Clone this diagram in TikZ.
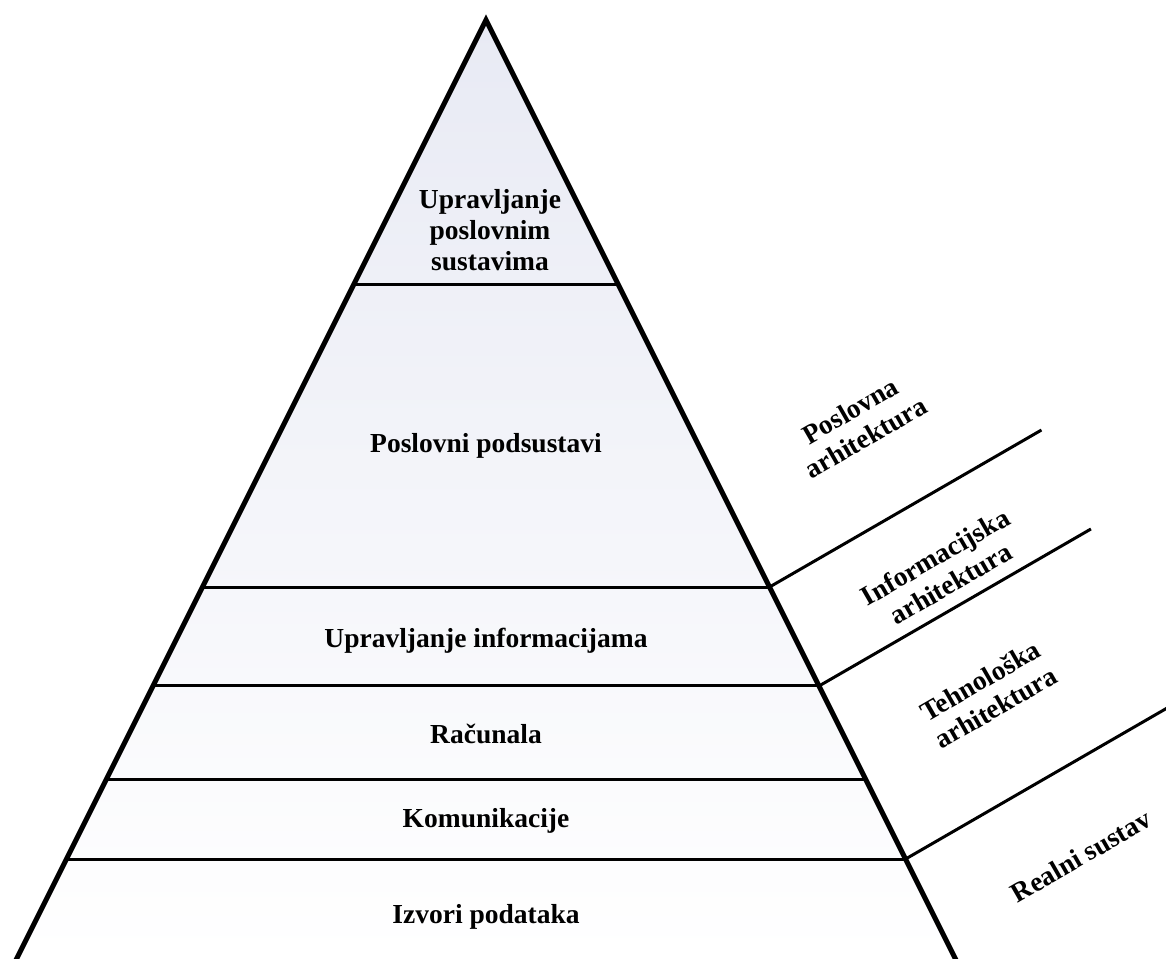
\documentclass[tikz,border=0pt]{standalone}
\usepackage{fontspec}
\setmainfont{Liberation Serif}
\usetikzlibrary{calc}
\definecolor{pyrtop}{HTML}{E8EAF4}

\begin{document}
\begin{tikzpicture}[
    x=1pt, y=1pt,
    layer/.style={line width=3pt},
    edge/.style={line width=5pt, line join=miter},
    side/.style={line width=3pt},
    tier/.style={font=\bfseries\fontsize{27.5}{31}\selectfont, align=center, inner sep=0pt},
    archtext/.style={tier, rotate=30}
  ]
    \useasboundingbox (0,0) rectangle (1166,-958);
    \clip (0,0) rectangle (1166,-958);

    % Pyramid
    \coordinate (apex) at (486,-20);
    \coordinate (bl) at (17,-958);
    \coordinate (br) at (955,-958);
    \shade[top color=pyrtop, bottom color=white] (apex) -- (bl) -- (br) -- cycle;

    % Layers
    \foreach \t [count=\i] in {0.2825,0.6045,0.7100,0.8092,0.8945} {
      \coordinate (l\i) at ($(apex)!\t!(bl)$);
      \coordinate (r\i) at ($(apex)!\t!(br)$);
      \draw[layer] (l\i) -- (r\i);
    }
    \draw[edge] ($(apex)!1.02!(bl)$) -- (apex) -- ($(apex)!1.02!(br)$);

    % Architecture borders
    \draw[side] (r2) -- ++(30:314);
    \draw[side] (r3) -- ++(30:314);
    \draw[side] (r5) -- ++(30:320);

    % Layer texts
    \node[tier] (top) at (490,-230) {Upravljanje\\poslovnim\\sustavima};
    \node[tier, anchor=base] (business) at (486,-452) {Poslovni podsustavi};
    \node[tier, anchor=base] (infomgmt) at (486,-647) {Upravljanje informacijama};
    \node[tier, anchor=base] (computers) at (486,-743) {Računala};
    \node[tier, anchor=base] (comms) at (486,-827) {Komunikacije};
    \node[tier, anchor=base] (sources) at (486,-923) {Izvori podataka};

    % Architecture texts
    \node[archtext] (archbus) at (858,-424) {Poslovna\\arhitektura};
    \node[archtext] (archinfo) at (943,-570) {Informacijska\\arhitektura};
    \node[archtext] (archtech) at (988,-694) {Tehnološka\\arhitektura};
    \node[archtext] (archreal) at (1081,-856) {Realni sustav};
  \end{tikzpicture}
\end{document}
